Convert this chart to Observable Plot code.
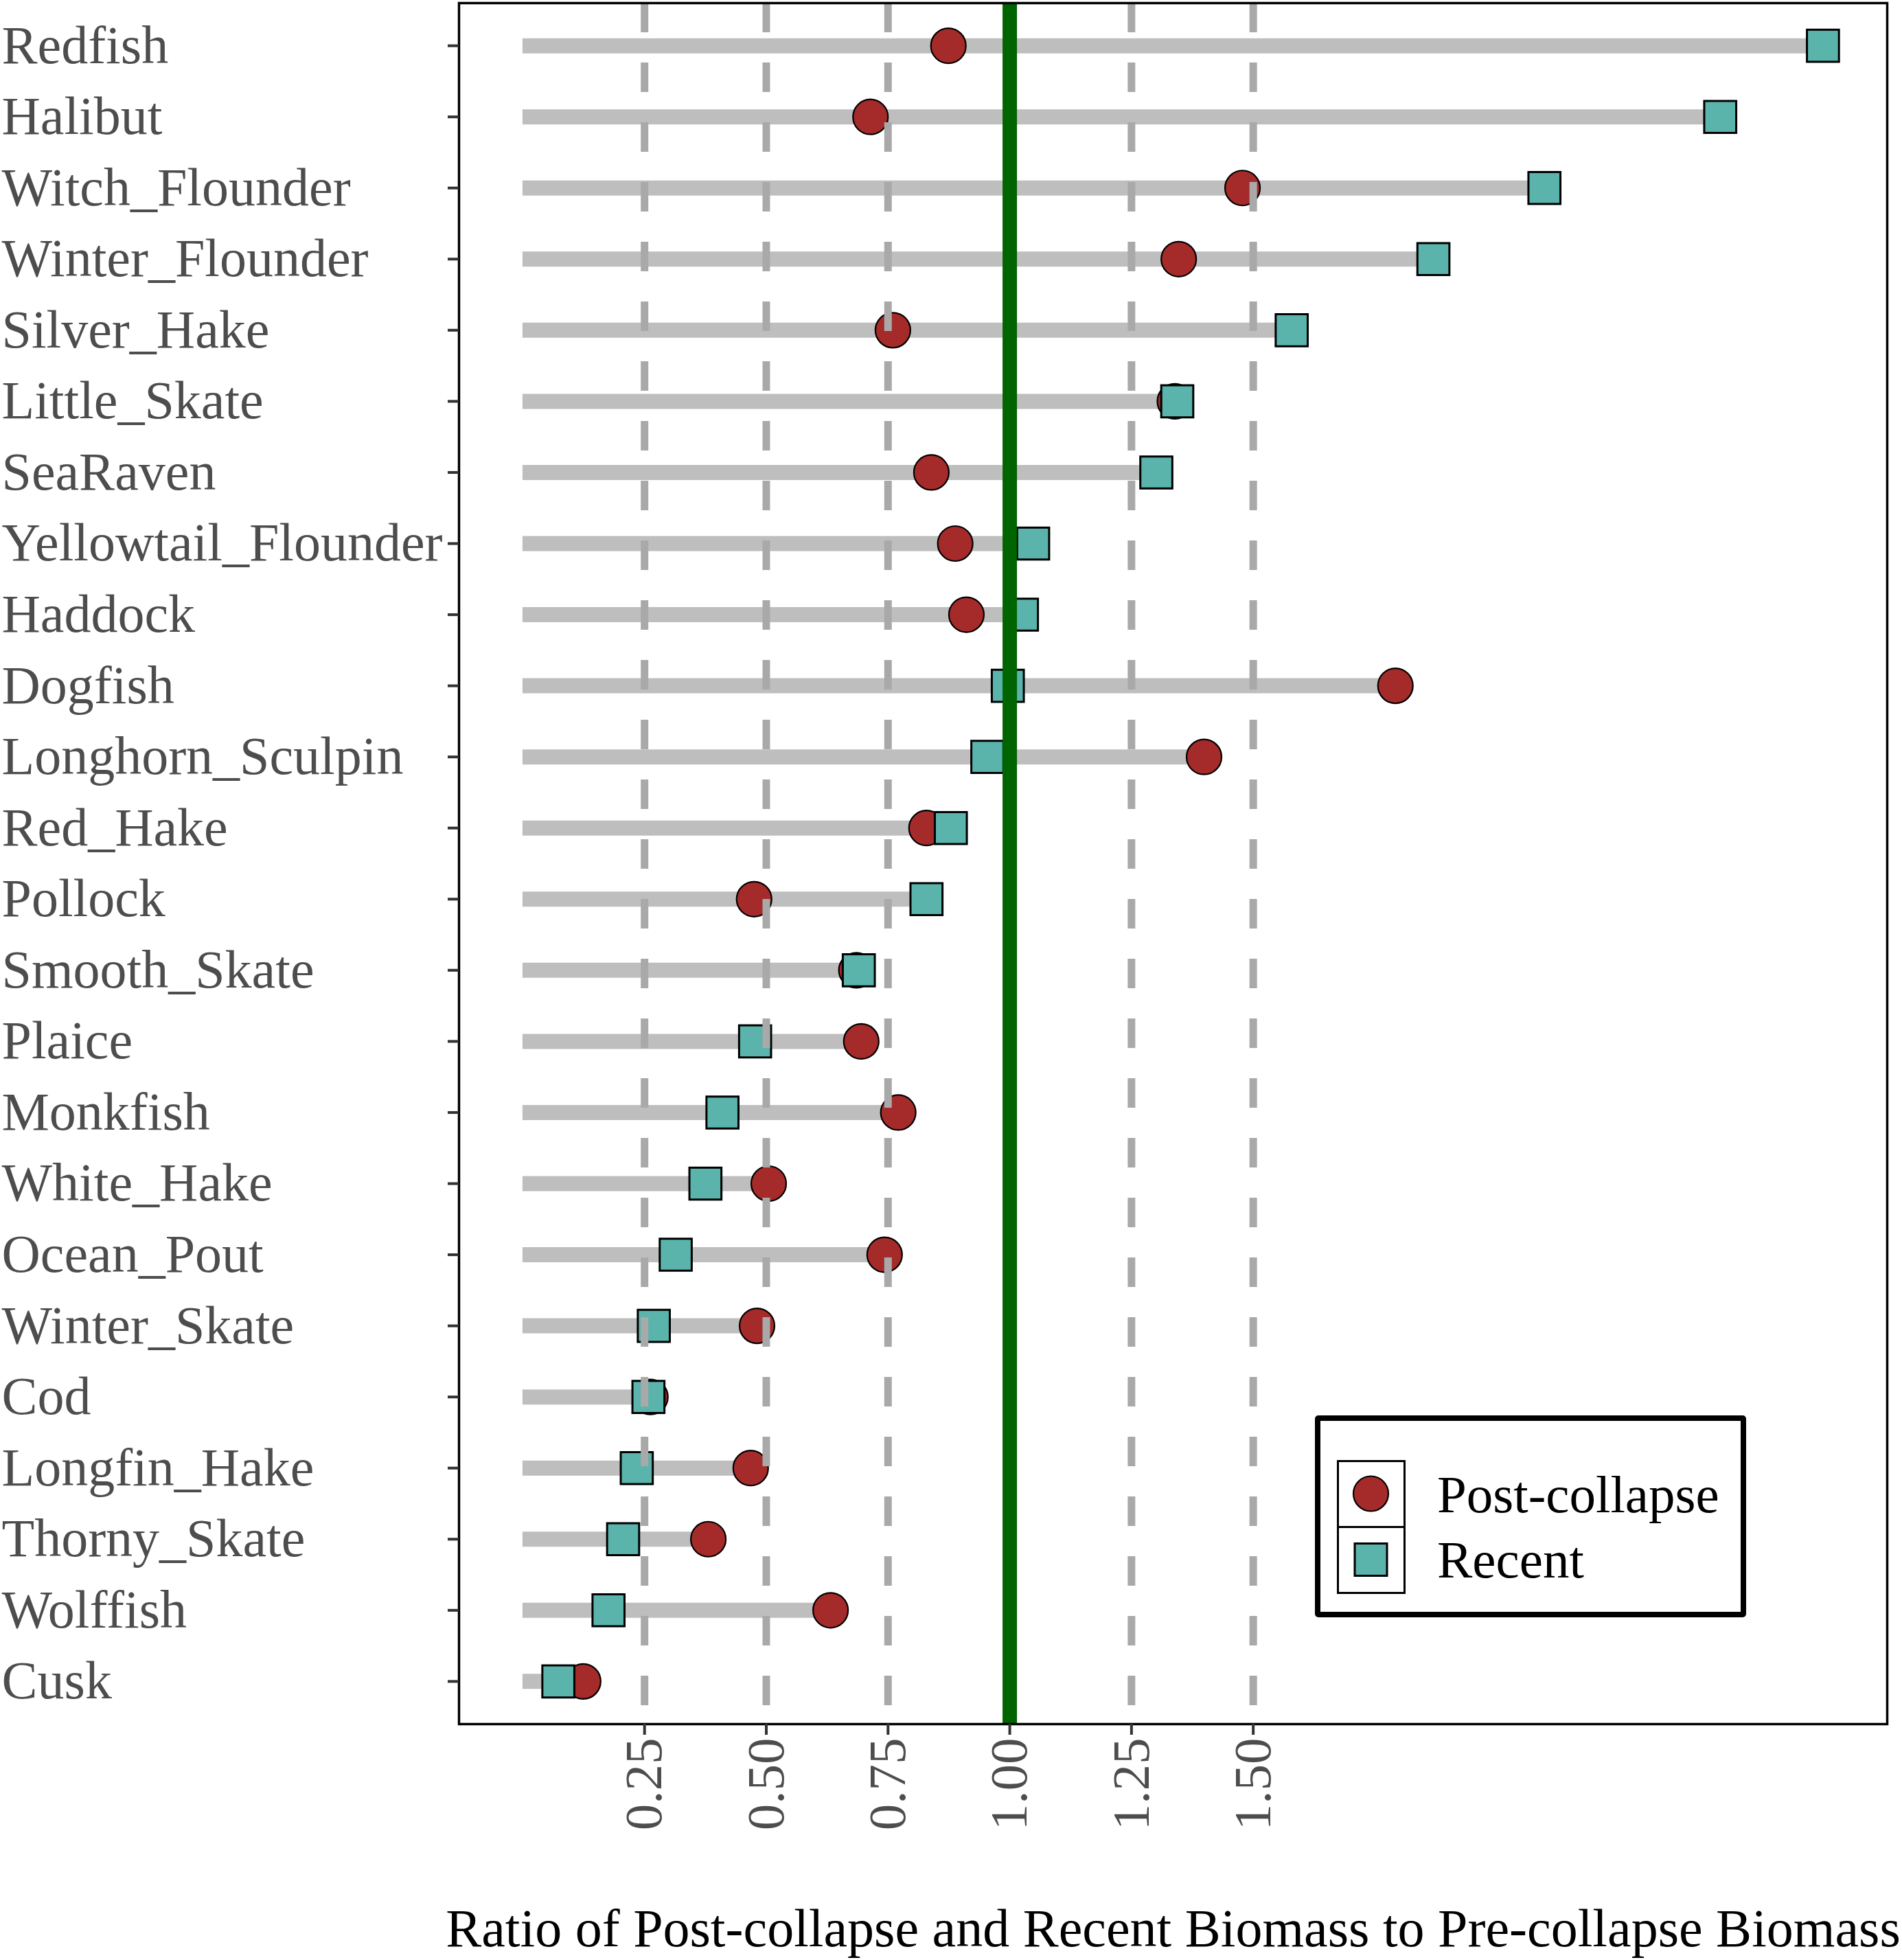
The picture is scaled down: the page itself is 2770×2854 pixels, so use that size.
<!DOCTYPE html>
<html>
<head>
<meta charset="utf-8">
<script src="https://cdn.jsdelivr.net/npm/d3@7"></script>
<script src="https://cdn.jsdelivr.net/npm/@observablehq/plot@0.6"></script>
<style>
  html, body { margin: 0; padding: 0; background: white; }
  #wrap { position: relative; width: 2770px; height: 2854px; font-family: 'Liberation Serif', 'Times New Roman', serif; }
  #legend { position: absolute; left: 1915px; top: 2061px; width: 628px; height: 294px; box-sizing: border-box;
            border: 8px solid black; border-radius: 5px; background: white; font-size: 77px; color: black; }
  .key { position: absolute; left: 24px; width: 100px; height: 99px; box-sizing: border-box; border: 3.5px solid black; background: white; }
  .lab { position: absolute; left: 170px; line-height: 77px; white-space: nowrap; }
  g[aria-label="y-axis tick"] path { stroke: #333333; }
  g[aria-label="x-axis tick"] path { stroke: #333333; }
</style>
</head>
<body>
<div id="wrap"></div>
<script>
const species = ["Redfish","Halibut","Witch_Flounder","Winter_Flounder","Silver_Hake","Little_Skate","SeaRaven","Yellowtail_Flounder","Haddock","Dogfish","Longhorn_Sculpin","Red_Hake","Pollock","Smooth_Skate","Plaice","Monkfish","White_Hake","Ocean_Pout","Winter_Skate","Cod","Longfin_Hake","Thorny_Skate","Wolffish","Cusk"];
const postCollapse = [0.874,0.714,1.478,1.347,0.760,1.339,0.839,0.888,0.911,1.792,1.399,0.829,0.475,0.685,0.695,0.771,0.505,0.743,0.481,0.262,0.468,0.381,0.632,0.124];
const recent = [2.670,2.459,2.098,1.870,1.579,1.344,1.301,1.048,1.025,0.996,0.954,0.879,0.829,0.690,0.477,0.410,0.375,0.314,0.269,0.258,0.234,0.206,0.176,0.073];
const xTicks = [0.25,0.50,0.75,1.00,1.25,1.50];
const refLine = [1.0];
const seriesNames = ["Post-collapse","Recent"];
const axisTitle = "Ratio of Post-collapse and Recent Biomass to Pre-collapse Biomass";

const rows = species.map((s, i) => ({species: s, post: postCollapse[i], recent: recent[i]}));

const chart = Plot.plot({
  width: 2770,
  height: 2854,
  marginLeft: 668,
  marginRight: 22,
  marginTop: 4,
  marginBottom: 344,
  x: {domain: [-0.131, 2.802]},
  y: {type: "point", domain: species, padding: 0.6, round: false},
  style: {fontFamily: "'Liberation Serif', 'Times New Roman', serif", background: "white", color: "#4d4d4d"},
  marks: [
    Plot.ruleY(rows, {y: "species", x1: 0, x2: d => Math.max(d.post, d.recent), stroke: "#bebebe", strokeWidth: 22}),
    Plot.dot(rows, {x: "post", y: "species", r: 25.5, fill: "#a52a2a", stroke: "black", strokeWidth: 2.2}),
    Plot.dot(rows, {x: "recent", y: "species", symbol: "square", r: 26.3, fill: "#5ab4ac", stroke: "black", strokeWidth: 3}),
    Plot.ruleX(xTicks, {stroke: "#a9a9a9", strokeWidth: 11, strokeDasharray: "43,44"}),
    Plot.ruleX(refLine, {stroke: "#006400", strokeWidth: 21}),
    Plot.frame({stroke: "black", strokeWidth: 3.5}),
    Plot.axisY({tickSize: 16, tickPadding: 650, textAnchor: "start", fontSize: 78, fill: "#4d4d4d", strokeWidth: 4, label: null}),
    Plot.axisX(xTicks, {tickSize: 16, tickPadding: 4, tickRotate: -90, tickFormat: d3.format(".2f"), fontSize: 77, fill: "#4d4d4d", strokeWidth: 4, label: null}),
    Plot.text([axisTitle], {frameAnchor: "bottom", dy: 323, lineAnchor: "bottom", fontSize: 78, fill: "black"})
  ]
});

const wrap = document.getElementById("wrap");
wrap.appendChild(chart);

// Legend
const legend = document.createElement("div");
legend.id = "legend";
const keyTops = [57, 153];
const labTops = [69, 164];
seriesNames.forEach((name, i) => {
  const key = document.createElement("div");
  key.className = "key";
  key.style.top = keyTops[i] + "px";
  const ns = "http://www.w3.org/2000/svg";
  const svg = document.createElementNS(ns, "svg");
  svg.setAttribute("width", "93");
  svg.setAttribute("height", "92");
  svg.style.position = "absolute";
  svg.style.left = "0px";
  svg.style.top = "0px";
  if (i === 0) {
    const c = document.createElementNS(ns, "circle");
    c.setAttribute("cx", "46.5"); c.setAttribute("cy", "46");
    c.setAttribute("r", "25.5");
    c.setAttribute("fill", "#a52a2a"); c.setAttribute("stroke", "black"); c.setAttribute("stroke-width", "2.2");
    svg.appendChild(c);
  } else {
    const r = document.createElementNS(ns, "rect");
    r.setAttribute("x", "23"); r.setAttribute("y", "22.5");
    r.setAttribute("width", "47"); r.setAttribute("height", "47");
    r.setAttribute("fill", "#5ab4ac"); r.setAttribute("stroke", "black"); r.setAttribute("stroke-width", "3");
    svg.appendChild(r);
  }
  key.appendChild(svg);
  legend.appendChild(key);
  const lab = document.createElement("div");
  lab.className = "lab";
  lab.style.top = labTops[i] + "px";
  lab.textContent = name;
  legend.appendChild(lab);
});
wrap.appendChild(legend);
</script>
</body>
</html>
